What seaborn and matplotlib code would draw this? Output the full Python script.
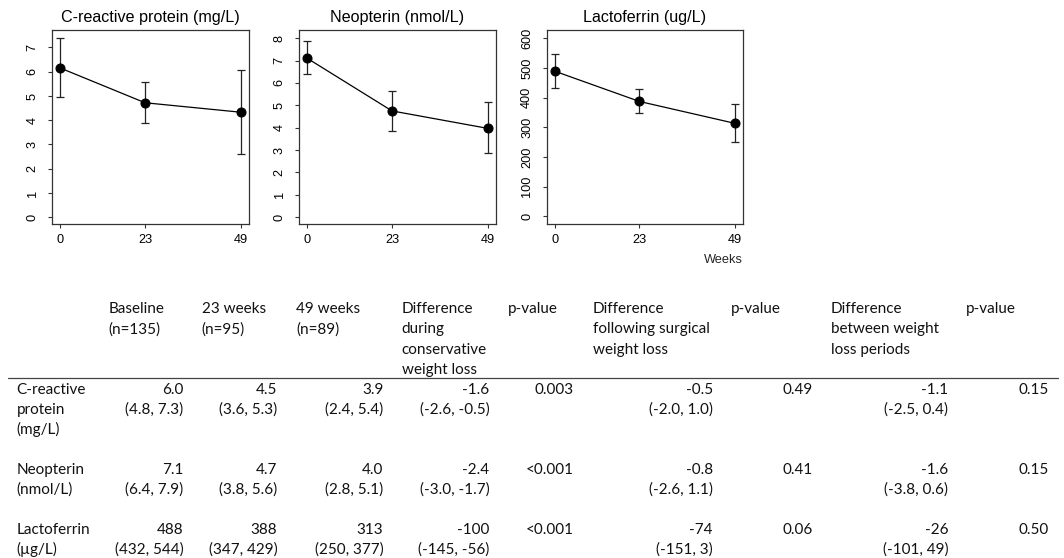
import numpy as np
import pandas as pd
import seaborn as sns
import matplotlib.pyplot as plt

# values (mean and 95% CI at each visit)
weeks = [0, 23, 49]
panel_titles = ['C-reactive protein (mg/L)', 'Neopterin (nmol/L)', 'Lactoferrin (ug/L)']
crp_mean = [6.15, 4.72, 4.33]
crp_low = [4.95, 3.87, 2.59]
crp_high = [7.40, 5.58, 6.08]
neo_mean = [7.10, 4.75, 3.97]
neo_low = [6.38, 3.84, 2.85]
neo_high = [7.88, 5.65, 5.13]
lac_mean = [489, 387, 313]
lac_low = [433, 348, 250]
lac_high = [546, 429, 378]
y_ticks = [range(0, 8), range(0, 9), range(0, 601, 100)]
y_limits = [(-0.3, 7.72), (-0.33, 8.37), (-28, 628)]

# table contents
row_labels = [['C-reactive', 'protein', '(mg/L)'], ['Neopterin', '(nmol/L)'], ['Lactoferrin', '(µg/L)']]
col_headers = [['Baseline', '(n=135)'], ['23 weeks', '(n=95)'], ['49 weeks', '(n=89)'],
               ['Difference', 'during', 'conservative', 'weight loss'], ['p-value'],
               ['Difference', 'following surgical', 'weight loss'], ['p-value'],
               ['Difference', 'between weight', 'loss periods'], ['p-value']]
baseline = [['6.0', '(4.8, 7.3)'], ['7.1', '(6.4, 7.9)'], ['488', '(432, 544)']]
week23 = [['4.5', '(3.6, 5.3)'], ['4.7', '(3.8, 5.6)'], ['388', '(347, 429)']]
week49 = [['3.9', '(2.4, 5.4)'], ['4.0', '(2.8, 5.1)'], ['313', '(250, 377)']]
diff_conservative = [['-1.6', '(-2.6, -0.5)'], ['-2.4', '(-3.0, -1.7)'], ['-100', '(-145, -56)']]
p_conservative = [['0.003'], ['<0.001'], ['<0.001']]
diff_surgical = [['-0.5', '(-2.0, 1.0)'], ['-0.8', '(-2.6, 1.1)'], ['-74', '(-151, 3)']]
p_surgical = [['0.49'], ['0.41'], ['0.06']]
diff_between = [['-1.1', '(-2.5, 0.4)'], ['-1.6', '(-3.8, 0.6)'], ['-26', '(-101, 49)']]
p_between = [['0.15'], ['0.15'], ['0.50']]
table_cols = [baseline, week23, week49, diff_conservative, p_conservative,
              diff_surgical, p_surgical, diff_between, p_between]

sns.set_theme(style='ticks')
plt.rcParams['font.family'] = ['Liberation Sans', 'DejaVu Sans']

W, H = 1064, 558
fig = plt.figure(figsize=(W / 100, H / 100), dpi=100)

panels = [(crp_mean, crp_low, crp_high), (neo_mean, neo_low, neo_high), (lac_mean, lac_low, lac_high)]
lefts = [52.3, 299.3, 546.7]
top, bottom, width = 30, 224.5, 196.5

for i, (m, lo, hi) in enumerate(panels):
    ax = fig.add_axes([lefts[i] / W, 1 - bottom / H, width / W, (bottom - top) / H])
    df = pd.DataFrame({'week': weeks, 'mean': m, 'low': lo, 'high': hi})
    ax.errorbar(df['week'], df['mean'], yerr=[df['mean'] - df['low'], df['high'] - df['mean']],
                fmt='none', ecolor='#222222', elinewidth=0.9, capsize=2.6, capthick=0.9, zorder=2)
    sns.lineplot(data=df, x='week', y='mean', marker='o', color='black', markersize=6.5,
                 markeredgecolor='black', linewidth=0.9, ax=ax, zorder=3)
    ax.set_xlim(-2.2, 51.2)
    ax.set_ylim(*y_limits[i])
    ax.set_xticks(weeks)
    ax.set_yticks(list(y_ticks[i]))
    ax.set_title(panel_titles[i], fontsize=11.6, pad=5.5, color='black')
    ax.set_ylabel('')
    ax.set_xlabel('')
    for s in ax.spines.values():
        s.set_visible(True)
        s.set_color('#333333')
        s.set_linewidth(0.9)
    ax.tick_params(axis='both', colors='#333333', labelcolor='black', length=3.2, width=0.8, labelsize=9.2)
    ax.tick_params(axis='x', pad=3.5)
    ax.tick_params(axis='y', pad=6.5, labelrotation=90)
    for lab in ax.get_yticklabels():
        lab.set_va('center')
    if i == 2:
        ax.set_xlabel('Weeks', loc='right', fontsize=9.2, labelpad=6)

# table drawn in pixel coordinates
tax = fig.add_axes([0, 0, 1, 1])
tax.set_xlim(0, W)
tax.set_ylim(H, 0)
tax.axis('off')

tfont = dict(family=['Lato', 'DejaVu Sans'], fontsize=11, color='#111111')
head_h = 20.3
line_h = 20.0
head_y = 307.5 + 5.5
row_y0 = 394.0
header_left = [108.3, 201.7, 296, 401.7, 508.3, 592.7, 730.7, 830.7, 965.7]
value_right = [183.3, 277.3, 383.3, 489.3, 573.3, 712.7, 812.3, 948.3, 1049]
label_left = 16.7

for j, head in enumerate(col_headers):
    for k, txt in enumerate(head):
        tax.text(header_left[j], head_y + k * head_h, txt, ha='left', va='baseline', **tfont)

tax.axhline(378.3, xmin=8 / W, xmax=1058 / W, color='#444444', linewidth=0.9)

row_start = 0
for r, lab in enumerate(row_labels):
    base = row_y0 + row_start * line_h
    for k, txt in enumerate(lab):
        tax.text(label_left, base + k * line_h, txt, ha='left', va='baseline', **tfont)
    for j, col in enumerate(table_cols):
        for k, txt in enumerate(col[r]):
            tax.text(value_right[j], base + k * line_h, txt, ha='right', va='baseline', **tfont)
    row_start += len(lab) + 1

fig.savefig('out.png', dpi=100)
